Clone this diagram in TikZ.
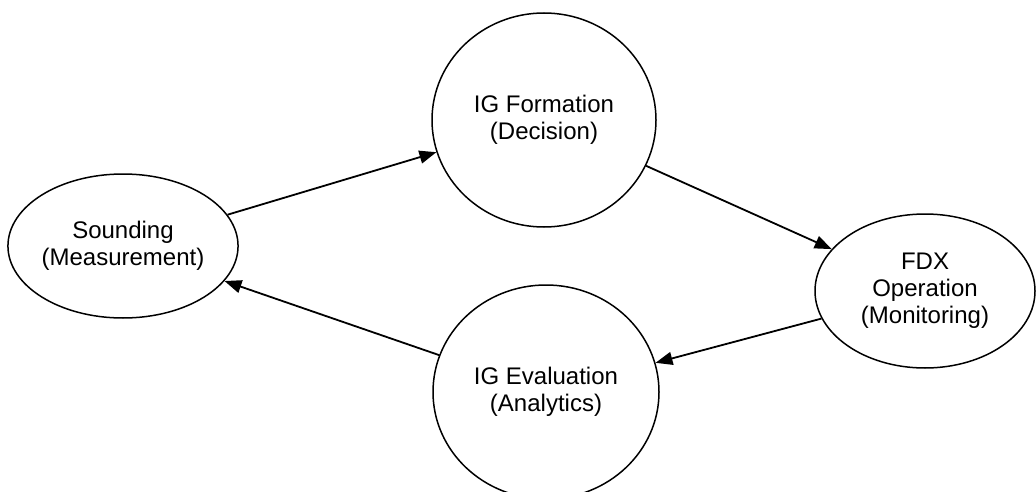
\documentclass[tikz,border=0pt]{standalone}
\usepackage{fontspec}
\setmainfont{Liberation Sans}
\usetikzlibrary{shapes.geometric,arrows.meta}
\begin{document}
\begin{tikzpicture}[x=1pt,y=-1pt,
  stage/.style={ellipse,draw,line width=1.5pt,inner sep=0pt,align=center,
    font=\fontsize{24}{27}\selectfont},
  flow/.style={line width=1.8pt,-{Triangle[length=17pt,width=13pt]}}]
\useasboundingbox (0,0) rectangle (1036,492);
\node[stage,minimum width=230pt,minimum height=144pt] (snd) at (123,246) {Sounding\\(Measurement)};
\node[stage,minimum width=224pt,minimum height=214pt] (form) at (544,120) {IG Formation\\(Decision)};
\node[stage,minimum width=220pt,minimum height=154pt] (fdx) at (925,291) {FDX\\Operation\\(Monitoring)};
\node[stage,minimum width=226pt,minimum height=214pt] (eval) at (546,392) {IG Evaluation\\(Analytics)};
\draw[flow] (snd) -- (form);
\draw[flow] (form) -- (fdx);
\draw[flow] (fdx) -- (eval);
\draw[flow] (eval) -- (snd);
\end{tikzpicture}
\end{document}
